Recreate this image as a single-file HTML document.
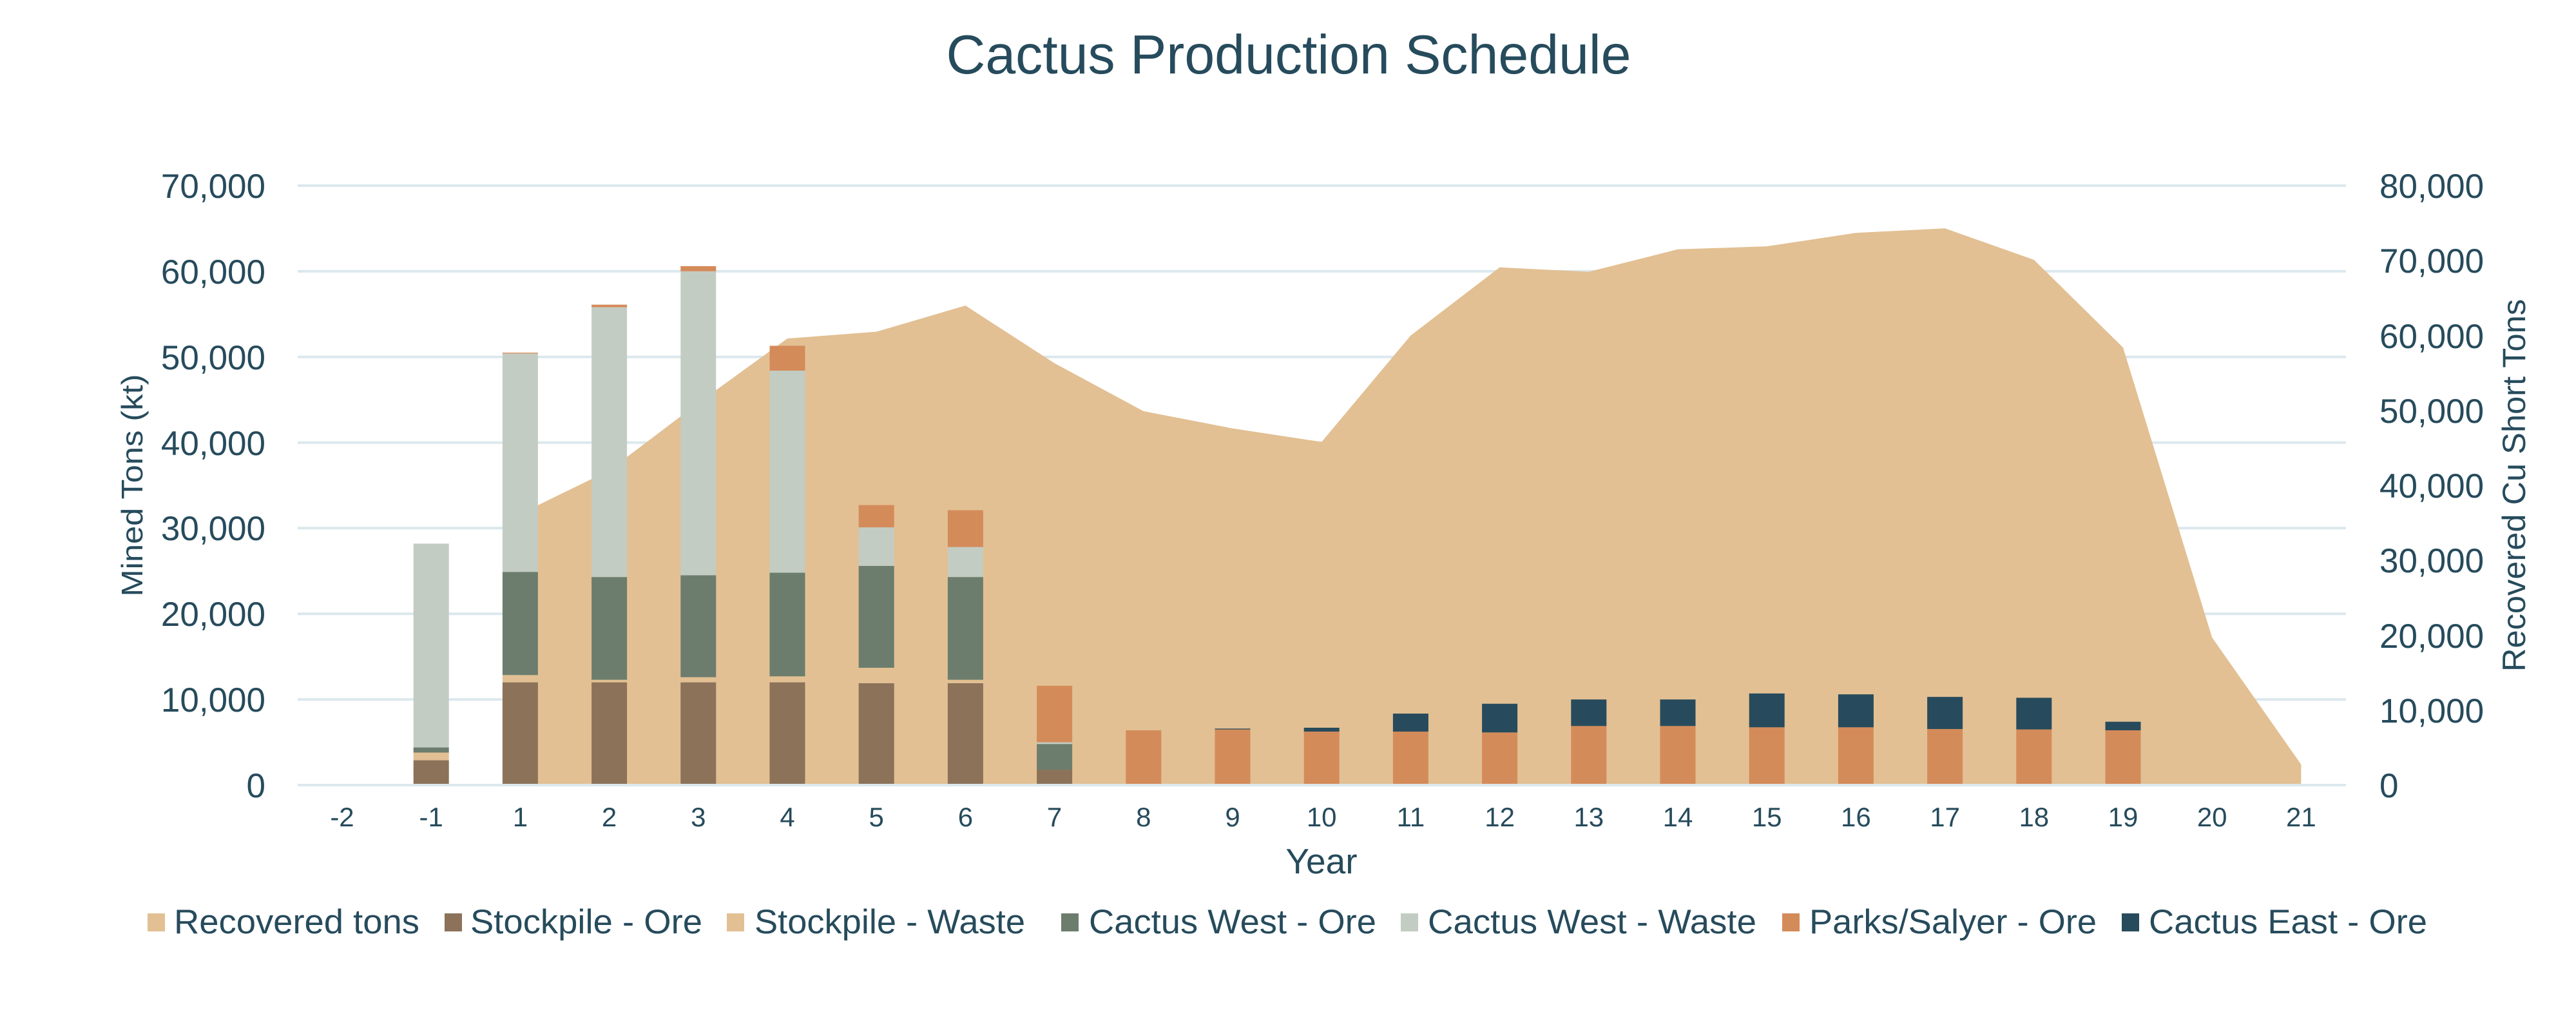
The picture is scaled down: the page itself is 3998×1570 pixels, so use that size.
<!DOCTYPE html>
<html><head><meta charset="utf-8"><style>
html,body{margin:0;padding:0;background:#fff;}
svg{display:block;}
text{font-family:"Liberation Sans",Arial,sans-serif;fill:#264B5C;}
</style></head><body>
<svg width="3998" height="1570" viewBox="0 0 3998 1570" xmlns="http://www.w3.org/2000/svg">
<rect width="3998" height="1570" fill="#fff"/>
<text x="2000" y="114" font-size="85" text-anchor="middle" textLength="1063" lengthAdjust="spacingAndGlyphs">Cactus Production Schedule</text>
<!-- gridlines -->
<g stroke="#DCE8EE" stroke-width="4">
<line x1="462" x2="3641" y1="288" y2="288"/>
<line x1="462" x2="3641" y1="420.9" y2="420.9"/>
<line x1="462" x2="3641" y1="553.7" y2="553.7"/>
<line x1="462" x2="3641" y1="686.6" y2="686.6"/>
<line x1="462" x2="3641" y1="819.4" y2="819.4"/>
<line x1="462" x2="3641" y1="952.3" y2="952.3"/>
<line x1="462" x2="3641" y1="1085.1" y2="1085.1"/>
</g>
<!-- area (right axis) -->
<g transform="translate(0,1218) scale(1,-0.011625)">
<polygon fill="#E2C093" points="807.4,0 807.4,36200 945.6,42000 1083.8,51000 1222,59600 1360.2,60500 1498.4,64000 1636.6,56300 1774.8,49900 1913,47600 2051.2,45800 2189.4,60000 2327.6,69100 2465.8,68500 2604,71500 2742.2,71900 2880.4,73700 3018.6,74300 3156.8,70100 3295,58400 3433.2,19700 3571.4,2750 3571.4,0"/>
</g>
<!-- bars (left axis) -->
<g transform="translate(0,1218) scale(1,-0.0132857)">
<!-- -1 -->
<rect x="641.7" width="55" y="0" height="2900" fill="#8B7259"/>
<rect x="641.7" width="55" y="2900" height="900" fill="#E2C093"/>
<rect x="641.7" width="55" y="3800" height="600" fill="#6C7D6E"/>
<rect x="641.7" width="55" y="4400" height="23800" fill="#C3CCC3"/>
<!-- 1 -->
<rect x="779.9" width="55" y="0" height="12000" fill="#8B7259"/>
<rect x="779.9" width="55" y="12000" height="850" fill="#E2C093"/>
<rect x="779.9" width="55" y="12850" height="12050" fill="#6C7D6E"/>
<rect x="779.9" width="55" y="24900" height="25500" fill="#C3CCC3"/>
<rect x="779.9" width="55" y="50400" height="100" fill="#D48B5A"/>
<!-- 2 -->
<rect x="918.1" width="55" y="0" height="12000" fill="#8B7259"/>
<rect x="918.1" width="55" y="12000" height="300" fill="#E2C093"/>
<rect x="918.1" width="55" y="12300" height="12000" fill="#6C7D6E"/>
<rect x="918.1" width="55" y="24300" height="31500" fill="#C3CCC3"/>
<rect x="918.1" width="55" y="55800" height="300" fill="#D48B5A"/>
<!-- 3 -->
<rect x="1056.3" width="55" y="0" height="12000" fill="#8B7259"/>
<rect x="1056.3" width="55" y="12000" height="600" fill="#E2C093"/>
<rect x="1056.3" width="55" y="12600" height="11900" fill="#6C7D6E"/>
<rect x="1056.3" width="55" y="24500" height="35500" fill="#C3CCC3"/>
<rect x="1056.3" width="55" y="60000" height="600" fill="#D48B5A"/>
<!-- 4 -->
<rect x="1194.5" width="55" y="0" height="12000" fill="#8B7259"/>
<rect x="1194.5" width="55" y="12000" height="700" fill="#E2C093"/>
<rect x="1194.5" width="55" y="12700" height="12100" fill="#6C7D6E"/>
<rect x="1194.5" width="55" y="24800" height="23600" fill="#C3CCC3"/>
<rect x="1194.5" width="55" y="48400" height="2900" fill="#D48B5A"/>
<!-- 5 -->
<rect x="1332.7" width="55" y="0" height="11900" fill="#8B7259"/>
<rect x="1332.7" width="55" y="11900" height="1800" fill="#E2C093"/>
<rect x="1332.7" width="55" y="13700" height="11900" fill="#6C7D6E"/>
<rect x="1332.7" width="55" y="25600" height="4500" fill="#C3CCC3"/>
<rect x="1332.7" width="55" y="30100" height="2600" fill="#D48B5A"/>
<!-- 6 -->
<rect x="1470.9" width="55" y="0" height="11900" fill="#8B7259"/>
<rect x="1470.9" width="55" y="11900" height="400" fill="#E2C093"/>
<rect x="1470.9" width="55" y="12300" height="12000" fill="#6C7D6E"/>
<rect x="1470.9" width="55" y="24300" height="3500" fill="#C3CCC3"/>
<rect x="1470.9" width="55" y="27800" height="4300" fill="#D48B5A"/>
<!-- 7 -->
<rect x="1609.1" width="55" y="0" height="1800" fill="#8B7259"/>
<rect x="1609.1" width="55" y="1800" height="3000" fill="#6C7D6E"/>
<rect x="1609.1" width="55" y="4800" height="200" fill="#C3CCC3"/>
<rect x="1609.1" width="55" y="5000" height="6600" fill="#D48B5A"/>
<!-- 8..19 -->
<rect x="1747.3" width="55" y="0" height="6400" fill="#D48B5A"/>
<rect x="1885.5" width="55" y="0" height="6500" fill="#D48B5A"/>
<rect x="1885.5" width="55" y="6500" height="100" fill="#274B5C"/>
<rect x="2023.7" width="55" y="0" height="6250" fill="#D48B5A"/>
<rect x="2023.7" width="55" y="6250" height="450" fill="#274B5C"/>
<rect x="2161.9" width="55" y="0" height="6250" fill="#D48B5A"/>
<rect x="2161.9" width="55" y="6250" height="2100" fill="#274B5C"/>
<rect x="2300.1" width="55" y="0" height="6150" fill="#D48B5A"/>
<rect x="2300.1" width="55" y="6150" height="3350" fill="#274B5C"/>
<rect x="2438.3" width="55" y="0" height="6900" fill="#D48B5A"/>
<rect x="2438.3" width="55" y="6900" height="3100" fill="#274B5C"/>
<rect x="2576.5" width="55" y="0" height="6900" fill="#D48B5A"/>
<rect x="2576.5" width="55" y="6900" height="3100" fill="#274B5C"/>
<rect x="2714.7" width="55" y="0" height="6750" fill="#D48B5A"/>
<rect x="2714.7" width="55" y="6750" height="3950" fill="#274B5C"/>
<rect x="2852.9" width="55" y="0" height="6750" fill="#D48B5A"/>
<rect x="2852.9" width="55" y="6750" height="3850" fill="#274B5C"/>
<rect x="2991.1" width="55" y="0" height="6550" fill="#D48B5A"/>
<rect x="2991.1" width="55" y="6550" height="3750" fill="#274B5C"/>
<rect x="3129.3" width="55" y="0" height="6500" fill="#D48B5A"/>
<rect x="3129.3" width="55" y="6500" height="3700" fill="#274B5C"/>
<rect x="3267.5" width="55" y="0" height="6400" fill="#D48B5A"/>
<rect x="3267.5" width="55" y="6400" height="1000" fill="#274B5C"/>
<rect x="3405.7" width="55" y="0" height="80" fill="#D48B5A"/>
</g>
<line x1="462" x2="3641" y1="1218" y2="1218" stroke="#DCE8EE" stroke-width="4"/>
<!-- left ticks -->
<g font-size="53" text-anchor="end">
<text x="412" y="307">70,000</text>
<text x="412" y="440">60,000</text>
<text x="412" y="573">50,000</text>
<text x="412" y="706">40,000</text>
<text x="412" y="838">30,000</text>
<text x="412" y="971">20,000</text>
<text x="412" y="1104">10,000</text>
<text x="412" y="1237">0</text>
</g>
<!-- right ticks -->
<g font-size="53" text-anchor="start">
<text x="3693" y="307">80,000</text>
<text x="3693" y="423">70,000</text>
<text x="3693" y="540">60,000</text>
<text x="3693" y="656">50,000</text>
<text x="3693" y="772">40,000</text>
<text x="3693" y="888">30,000</text>
<text x="3693" y="1005">20,000</text>
<text x="3693" y="1121">10,000</text>
<text x="3693" y="1237">0</text>
</g>
<text transform="translate(221,753) rotate(-90)" font-size="46" text-anchor="middle" textLength="345" lengthAdjust="spacingAndGlyphs">Mined Tons (kt)</text>
<text transform="translate(3919,753) rotate(-90)" font-size="50" text-anchor="middle" textLength="578" lengthAdjust="spacingAndGlyphs">Recovered Cu Short Tons</text>
<!-- x labels -->
<g font-size="42" text-anchor="middle">
<text x="531" y="1282">-2</text><text x="669.2" y="1282">-1</text>
<text x="807.4" y="1282">1</text><text x="945.6" y="1282">2</text>
<text x="1083.8" y="1282">3</text><text x="1222" y="1282">4</text>
<text x="1360.2" y="1282">5</text><text x="1498.4" y="1282">6</text>
<text x="1636.6" y="1282">7</text><text x="1774.8" y="1282">8</text>
<text x="1913" y="1282">9</text><text x="2051.2" y="1282">10</text>
<text x="2189.4" y="1282">11</text><text x="2327.6" y="1282">12</text>
<text x="2465.8" y="1282">13</text><text x="2604" y="1282">14</text>
<text x="2742.2" y="1282">15</text><text x="2880.4" y="1282">16</text>
<text x="3018.6" y="1282">17</text><text x="3156.8" y="1282">18</text>
<text x="3295" y="1282">19</text><text x="3433.2" y="1282">20</text>
<text x="3571.4" y="1282">21</text>
</g>
<text x="2051" y="1355" font-size="55" text-anchor="middle">Year</text>
<!-- legend -->
<g font-size="53">
<rect x="229" y="1417" width="27" height="28" fill="#E2C093"/>
<text x="270" y="1448" textLength="381" lengthAdjust="spacingAndGlyphs">Recovered tons</text>
<rect x="690" y="1417" width="27" height="28" fill="#8B7259"/>
<text x="730" y="1448" textLength="360" lengthAdjust="spacingAndGlyphs">Stockpile - Ore</text>
<rect x="1128" y="1417" width="27" height="28" fill="#E2C093"/>
<text x="1171" y="1448" textLength="420" lengthAdjust="spacingAndGlyphs">Stockpile - Waste</text>
<rect x="1647" y="1417" width="27" height="28" fill="#6C7D6E"/>
<text x="1690" y="1448" textLength="446" lengthAdjust="spacingAndGlyphs">Cactus West - Ore</text>
<rect x="2174" y="1417" width="27" height="28" fill="#C3CCC3"/>
<text x="2216" y="1448" textLength="510" lengthAdjust="spacingAndGlyphs">Cactus West - Waste</text>
<rect x="2766" y="1417" width="27" height="28" fill="#D48B5A"/>
<text x="2808" y="1448" textLength="446" lengthAdjust="spacingAndGlyphs">Parks/Salyer - Ore</text>
<rect x="3293" y="1417" width="27" height="28" fill="#274B5C"/>
<text x="3335" y="1448" textLength="432" lengthAdjust="spacingAndGlyphs">Cactus East - Ore</text>
</g>
</svg>
</body></html>
